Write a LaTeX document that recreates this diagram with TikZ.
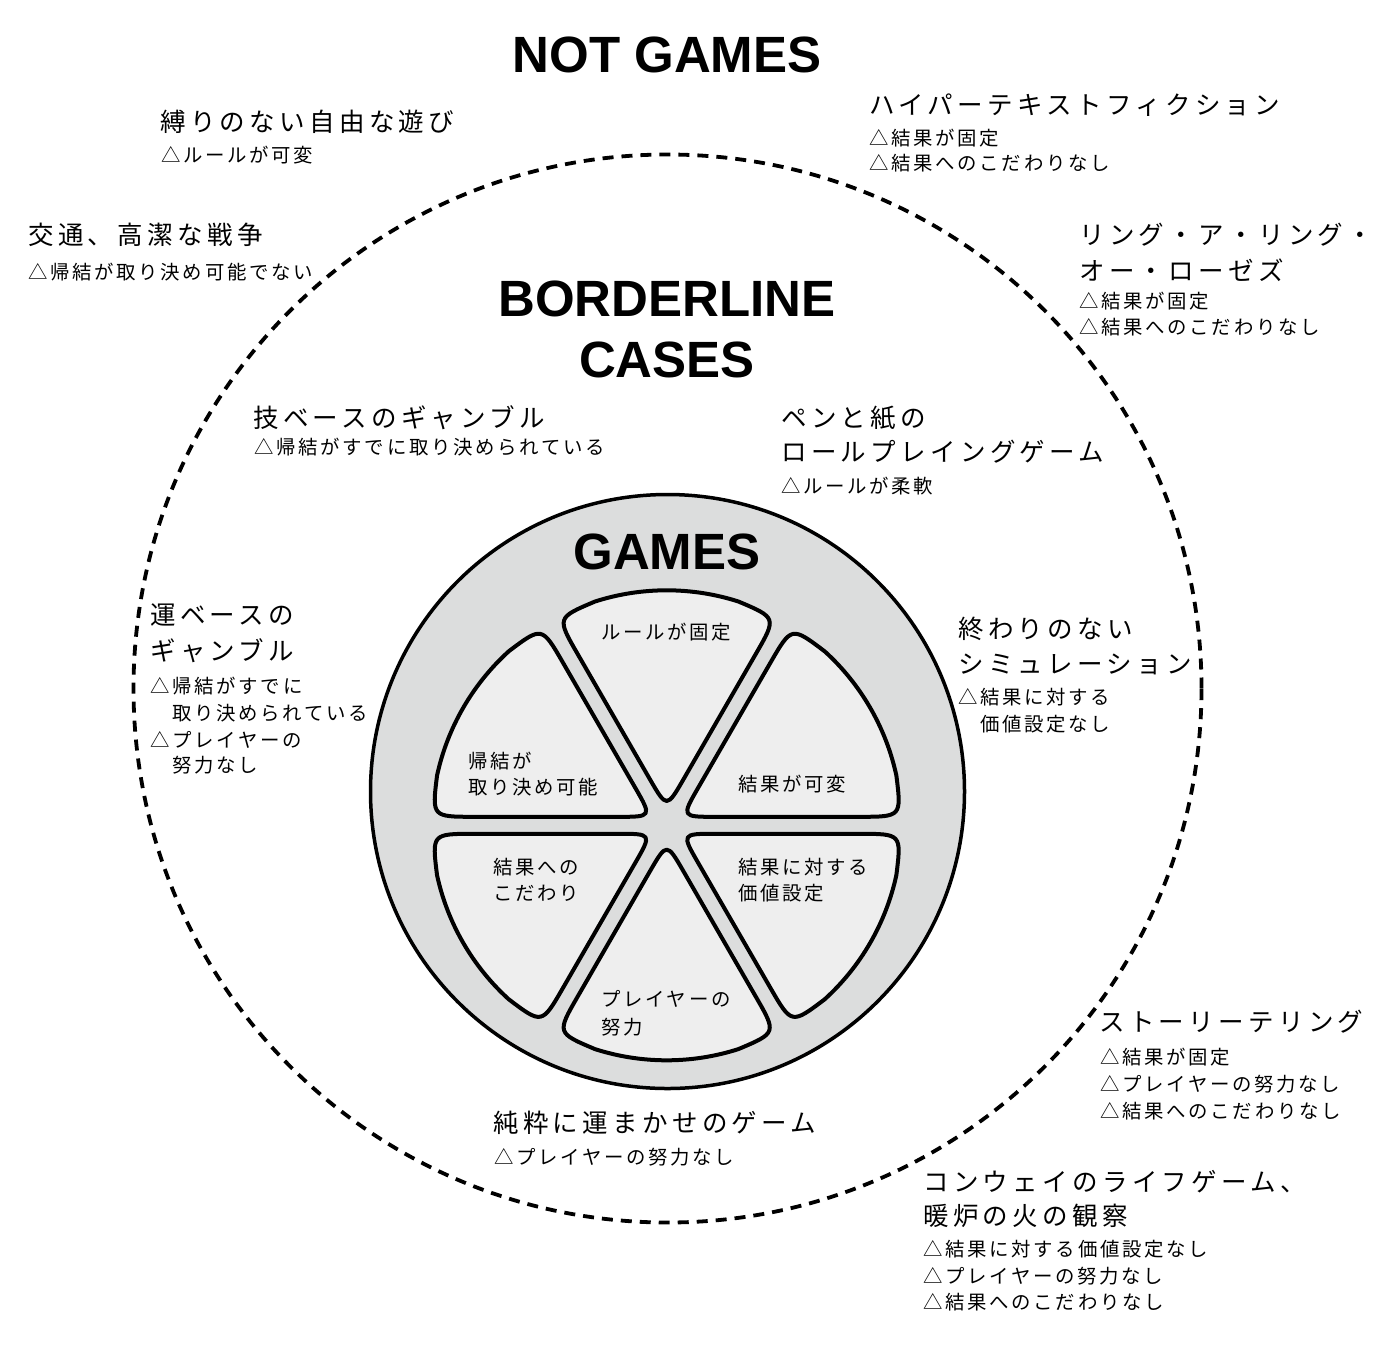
\documentclass[tikz,border=0pt]{standalone}
\usepackage{fontspec}
\setmainfont{Liberation Sans}
\newfontfamily\jpT[LetterSpace=17]{Noto Sans CJK JP}
\newfontfamily\jpN[LetterSpace=14]{Noto Sans CJK JP}
\definecolor{ringgray}{HTML}{DCDDDD}
\definecolor{slicegray}{HTML}{EEEEEE}
\tikzset{
  big/.style={anchor=west, inner sep=0pt, font=\jpT\fontsize{25.5}{30}\selectfont},
  note/.style={anchor=west, inner sep=0pt, font=\jpN\fontsize{19.4}{23}\selectfont},
  head/.style={inner sep=0pt, font=\bfseries\fontsize{51}{56}\selectfont},
  slice/.style={draw=black, line width=4pt, fill=slicegray, line join=round},
  outerring/.style={draw=black, line width=3.8pt, dash pattern=on 11pt off 8pt},
  gamering/.style={draw=black, line width=3.5pt, fill=ringgray},
}
\begin{document}
\begin{tikzpicture}[x=1pt,y=1pt]
\useasboundingbox (0,0) rectangle (1386,-1350);
\fill[white] (0,0) rectangle (1386,-1350);

% borderline circle
\draw[outerring] (667.5,-688.5) circle[radius=534];
% games circle
\draw[gamering] (667.5,-791.5) circle[radius=297];

% six slices
\foreach \a in {90,30,-30,-90,-150,150}{
  \begin{scope}[shift={(666.7,-825.3)}, rotate=\a-90]
    \draw[slice] (-17,46.4) .. controls (0,17) .. (17,46.4) -- (89,171.2)
      .. controls (110,207.6) .. (71.7,223.8)
      arc[start angle=72.24, end angle=107.76, radius=235]
      .. controls (-110,207.6) .. (-89,171.2) -- cycle;
  \end{scope}
}

% headings
\node[head] (notgames) at (667,-55) {NOT GAMES};
\node[head] (border1) at (667,-299) {BORDERLINE};
\node[head] (border2) at (667,-360) {CASES};
\node[head] (games) at (667,-552) {GAMES};

% slice labels
\node[note] (g1) at (601,-631.7) {ルールが固定};
\node[note] (g2a) at (468,-761) {帰結が};
\node[note] (g2b) at (468,-787.5) {取り決め可能};
\node[note] (g3) at (738,-784) {結果が可変};
\node[note] (g4a) at (493,-866.7) {結果への};
\node[note] (g4b) at (493,-893) {こだわり};
\node[note] (g5a) at (738,-866.7) {結果に対する};
\node[note] (g5b) at (738,-893) {価値設定};
\node[note] (g6a) at (601,-999) {プレイヤーの};
\node[note] (g6b) at (601,-1027) {努力};

% not games
\node[big] (n1) at (160,-122) {縛りのない自由な遊び};
\node[note] (n1a) at (161,-155.5) {△ルールが可変};
\node[big] (n2) at (28,-235) {交通、高潔な戦争};
\node[note] (n2a) at (28,-272) {△帰結が取り決め可能でない};
\node[big] (n3) at (869,-105.5) {ハイパーテキストフィクション};
\node[note] (n3a) at (869,-138) {△結果が固定};
\node[note] (n3b) at (869,-163) {△結果へのこだわりなし};
\node[big] (n4) at (1079,-235) {リング・ア・リング・};
\node[big] (n4b) at (1079,-270) {オー・ローゼズ};
\node[note] (n4c) at (1079,-301.5) {△結果が固定};
\node[note] (n4d) at (1079,-327.5) {△結果へのこだわりなし};
\node[big] (n5) at (1099,-1021.5) {ストーリーテリング};
\node[note] (n5a) at (1100,-1057.5) {△結果が固定};
\node[note] (n5b) at (1100,-1084) {△プレイヤーの努力なし};
\node[note] (n5c) at (1100,-1111) {△結果へのこだわりなし};
\node[big] (n6) at (923,-1181.5) {コンウェイのライフゲーム、};
\node[big] (n6b) at (923,-1216) {暖炉の火の観察};
\node[note] (n6c) at (923,-1249) {△結果に対する価値設定なし};
\node[note] (n6d) at (923,-1276) {△プレイヤーの努力なし};
\node[note] (n6e) at (923,-1302.5) {△結果へのこだわりなし};

% borderline cases
\node[big] (b1) at (253,-417.5) {技ベースのギャンブル};
\node[note] (b1a) at (254,-447) {△帰結がすでに取り決められている};
\node[big] (b2) at (781,-418) {ペンと紙の};
\node[big] (b2b) at (781,-451.5) {ロールプレイングゲーム};
\node[note] (b2c) at (781,-486) {△ルールが柔軟};
\node[big] (b3) at (150,-615) {運ベースの};
\node[big] (b3b) at (150,-651) {ギャンブル};
\node[note] (b3c) at (150,-686.5) {△帰結がすでに};
\node[note] (b3d) at (150,-713) {　取り決められている};
\node[note] (b3e) at (150,-740) {△プレイヤーの};
\node[note] (b3f) at (150,-765.5) {　努力なし};
\node[big] (b4) at (958,-629) {終わりのない};
\node[big] (b4b) at (958,-664) {シミュレーション};
\node[note] (b4c) at (958,-697.5) {△結果に対する};
\node[note] (b4d) at (958,-724.5) {　価値設定なし};
\node[big] (b5) at (493,-1123) {純粋に運まかせのゲーム};
\node[note] (b5a) at (494,-1157.5) {△プレイヤーの努力なし};
\end{tikzpicture}
\end{document}
